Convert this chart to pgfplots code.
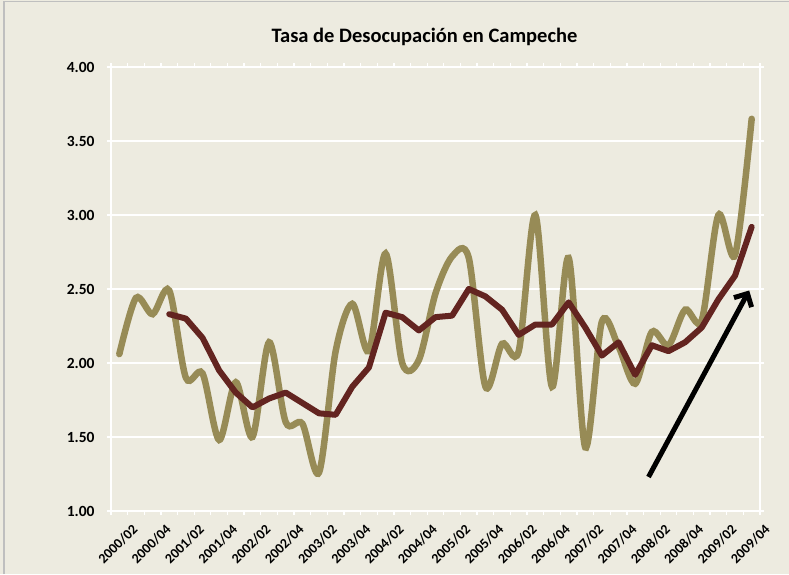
\documentclass[border=0pt]{standalone}
\usepackage{pgfplots}
\pgfplotsset{compat=1.18}
\usetikzlibrary{arrows.meta}
\usepackage{fontspec}
\setmainfont{Carlito}
\definecolor{bg}{HTML}{EDEBE0}
\definecolor{gold}{HTML}{978B56}
\definecolor{wine}{HTML}{632420}
\begin{document}
\begin{tikzpicture}
\fill[bg] (-111pt,-63pt) rectangle (678pt,511pt);
\draw[black!25, line width=1.5pt] (-107pt,-63pt) -- (-107pt,509.5pt) -- (678pt,509.5pt);
\begin{axis}[
  at={(0pt,0pt)}, anchor=south west,
  scale only axis, width=649pt, height=444pt,
  xmin=-0.5, xmax=38.5, ymin=1, ymax=4,
  axis line style={white, line width=1.3pt},
  ytick={1,1.5,...,4},
  ymajorgrids, major grid style={white, line width=1.3pt},
  yticklabel={\pgfmathprintnumber[fixed,fixed zerofill,precision=2]{\tick}},
  /pgf/number format/assume math mode=true,
  yticklabel style={font=\bfseries\fontsize{15.5}{18}\selectfont, xshift=-9pt},
  ytick style={white, line width=1.3pt},
  tick align=outside,
  major tick length=4pt,
  xtick={0,2,...,38},
  xticklabels={2000/02,2000/04,2001/02,2001/04,2002/02,2002/04,2003/02,2003/04,2004/02,2004/04,2005/02,2005/04,2006/02,2006/04,2007/02,2007/04,2008/02,2008/04,2009/02,2009/04},
  x tick style={draw=none},
  minor xtick={-0.5,0.5,...,38.5},
  minor x tick style={white, line width=1.3pt, draw=white},
  minor tick length=4pt,
  xticklabel style={font=\bfseries\fontsize{14}{16}\selectfont, rotate=45, anchor=north east, inner sep=0pt, yshift=-14pt, xshift=3pt},
  title={Tasa de Desocupación en Campeche},
  title style={font=\bfseries\fontsize{20.5}{24}\selectfont, at={(axis description cs:0.483,1)}, anchor=center, yshift=24pt},
  clip=false,
]
\addplot[gold, line width=6.5pt, smooth, tension=0.5, line cap=round] coordinates {
(0,2.06) (1,2.44) (2,2.33) (3,2.49) (4,1.90) (5,1.93) (6,1.48) (7,1.87) (8,1.50) (9,2.14)
(10,1.60) (11,1.59) (12,1.26) (13,2.08) (14,2.40) (15,2.08) (16,2.74) (17,2.00) (18,2.02) (19,2.47)
(20,2.72) (21,2.71) (22,1.84) (23,2.13) (24,2.08) (25,3.00) (26,1.84) (27,2.71) (28,1.43) (29,2.28)
(30,2.11) (31,1.86) (32,2.21) (33,2.12) (34,2.36) (35,2.29) (36,3.00) (37,2.73) (38,3.65)
};
\addplot[wine, line width=6pt, line join=round, line cap=round] coordinates {
(3,2.33) (4,2.30) (5,2.17) (6,1.95) (7,1.80) (8,1.70) (9,1.76) (10,1.80) (11,1.73) (12,1.66)
(13,1.65) (14,1.84) (15,1.97) (16,2.34) (17,2.31) (18,2.22) (19,2.31) (20,2.32) (21,2.50) (22,2.45)
(23,2.36) (24,2.19) (25,2.26) (26,2.26) (27,2.41) (28,2.24) (29,2.05) (30,2.14) (31,1.92) (32,2.12)
(33,2.08) (34,2.14) (35,2.24) (36,2.43) (37,2.59) (38,2.92)
};
\draw[black, line width=5pt, -{Straight Barb[length=10pt, width=20pt, line width=5pt]}] (axis cs:31.8,1.23) -- (axis cs:37.85,2.49);
\end{axis}
\pgfresetboundingbox
\useasboundingbox (-111pt,-63pt) rectangle (678pt,511pt);
\end{tikzpicture}
\end{document}
